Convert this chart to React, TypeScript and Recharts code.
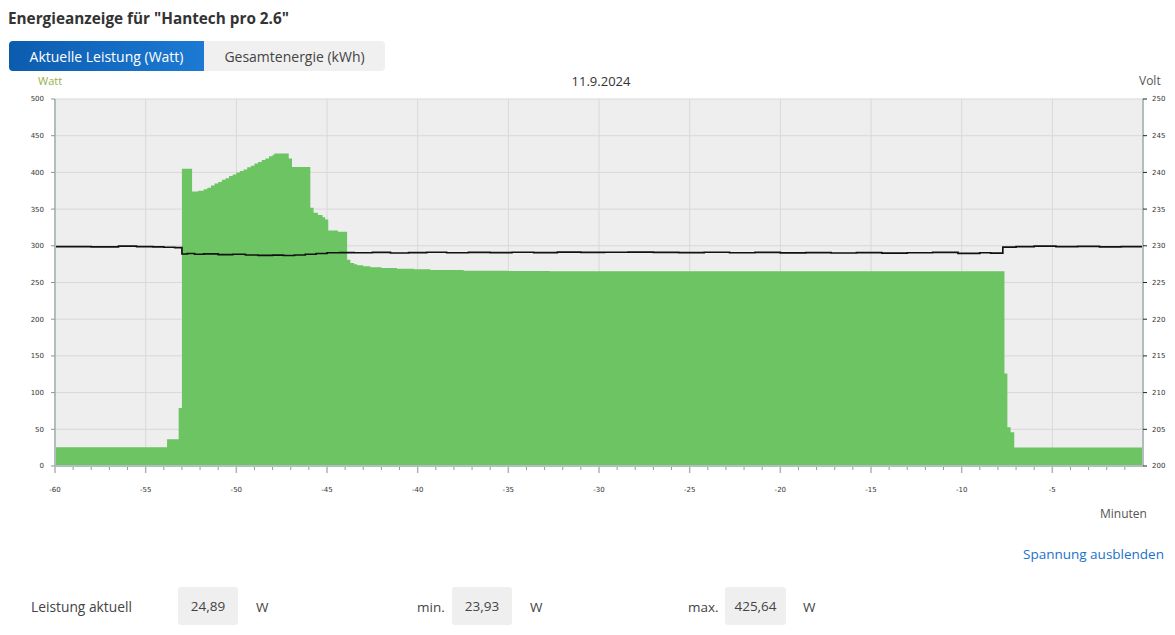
import React from 'react';
import { ComposedChart, Area, Line, XAxis, YAxis, CartesianGrid } from 'recharts';

// Power (Watt), step values starting at each minute mark
const powerMinutes = [
  -60, -53.82, -53.18, -53.0, -52.44, -52.1, -51.8, -51.6, -51.4, -51.2,
  -51.0, -50.8, -50.6, -50.4, -50.2, -50.0, -49.8, -49.6, -49.4, -49.2,
  -49.0, -48.8, -48.6, -48.4, -48.2, -48.0, -47.9, -47.11, -46.93, -45.92,
  -45.74, -45.5, -45.25, -45.1, -44.93, -44.4, -43.89, -43.71, -43.5, -43.34,
  -43.0, -42.61, -42.0, -41.14, -40.2, -39.3, -37.46, -35.0, -32.7, -7.64,
  -7.48, -7.3, -7.1, 0,
];
const powerWatts = [
  25.4, 36.5, 79, 405, 374, 375, 377, 379, 382, 385,
  387, 390, 392, 395, 397, 400, 402, 404, 407, 409,
  412, 414, 417, 419, 422, 424, 425.6, 419, 407.5, 352,
  345, 342, 339, 336, 321, 319, 281, 276.5, 275, 273.5,
  272, 270.7, 269.8, 268.8, 268, 267, 266, 265.8, 265.3, 126,
  52.7, 46, 25.2, 25.2,
];

// Voltage (Volt)
const voltMinutes = [
  -60, -58, -56.5, -55.5, -54.6, -54.0, -53.4, -53.0, -52.7, -52.3,
  -51.8, -51.0, -50.2, -49.5, -48.8, -48.0, -47.4, -46.8, -46.2, -45.6,
  -45.0, -44.3, -43.5, -42.5, -41.5, -40.5, -39.5, -38.4, -37.2, -36.0,
  -34.8, -33.6, -32.3, -31.0, -29.7, -28.4, -27.0, -25.6, -24.2, -22.8,
  -21.4, -20.0, -18.6, -17.2, -15.8, -14.4, -13.0, -11.6, -10.2, -9.0,
  -8.4, -7.73, -7.0, -6.0, -4.8, -3.6, -2.4, -1.2, 0,
];
const voltValues = [
  229.9, 229.85, 229.95, 229.9, 229.85, 229.8, 229.75, 228.88, 228.95, 228.85,
  228.9, 228.8, 228.85, 228.75, 228.7, 228.72, 228.68, 228.75, 228.85, 228.95,
  229.05, 229.08, 229.05, 229.1, 229.02, 229.08, 229.12, 229.05, 229.1, 229.06,
  229.12, 229.08, 229.15, 229.1, 229.12, 229.15, 229.1, 229.08, 229.12, 229.05,
  229.1, 229.04, 229.08, 229.02, 229.06, 229.0, 229.05, 229.1, 228.98, 229.05,
  229.0, 229.82, 229.9, 229.95, 229.88, 229.92, 229.85, 229.9, 229.9,
];

const wattTicks = [0, 50, 100, 150, 200, 250, 300, 350, 400, 450, 500];
const voltTicks = [200, 205, 210, 215, 220, 225, 230, 235, 240, 245, 250];
const minuteTicks = [
  -60, -59, -58, -57, -56, -55, -54, -53, -52, -51, -50, -49, -48, -47, -46,
  -45, -44, -43, -42, -41, -40, -39, -38, -37, -36, -35, -34, -33, -32, -31,
  -30, -29, -28, -27, -26, -25, -24, -23, -22, -21, -20, -19, -18, -17, -16,
  -15, -14, -13, -12, -11, -10, -9, -8, -7, -6, -5, -4, -3, -2, -1,
];
const gridMinutes = [-55, -50, -45, -40, -35, -30, -25, -20, -15, -10, -5];

const powerData = powerMinutes.map((m, i) => ({ m, w: powerWatts[i] }));
const voltData = voltMinutes.map((m, i) => ({ m, v: voltValues[i] }));

const tickFont = 'DejaVu Sans, Verdana, sans-serif';
const uiFont = '"Open Sans", "Noto Sans", sans-serif';

const MinuteTick = (props: any) => {
  const { x, y, payload } = props;
  const v = payload.value;
  const major = v % 5 === 0;
  return (
    <g>
      <line
        x1={x}
        x2={x}
        y1={major ? y : y + 1}
        y2={major ? y + 7 : y + 4}
        stroke={major ? '#a8b6b6' : '#8f9c9c'}
        strokeWidth={major ? 1.5 : 1}
      />
      {major && (
        <text x={x} y={y + 26} textAnchor="middle" fontSize={7} fontFamily={tickFont} fill="#333">
          {v}
        </text>
      )}
    </g>
  );
};

const abs = (s: React.CSSProperties): React.CSSProperties => ({ position: 'absolute', whiteSpace: 'nowrap', ...s });

export default function App() {
  return (
    <div style={{ position: 'absolute', left: 0, top: 0, width: 1175, height: 635, background: '#fff', fontFamily: uiFont, overflow: 'hidden' }}>
      <div style={abs({ left: 8, top: 7, fontSize: 15.3, fontWeight: 700, color: '#333', lineHeight: '22px' })}>
        Energieanzeige für "Hantech pro 2.6"
      </div>
      <div
        style={abs({
          left: 9, top: 41, width: 195, height: 30, borderRadius: '4px 0 0 4px',
          background: 'linear-gradient(to right, #0c5cae, #1c7ad4)', color: '#fff', fontSize: 14,
          display: 'flex', alignItems: 'center', justifyContent: 'center',
        })}
      >
        Aktuelle Leistung (Watt)
      </div>
      <div
        style={abs({
          left: 204, top: 41, width: 181, height: 30, borderRadius: '0 4px 4px 0',
          background: '#f0f0f0', color: '#444', fontSize: 14,
          display: 'flex', alignItems: 'center', justifyContent: 'center',
        })}
      >
        Gesamtenergie (kWh)
      </div>
      <div style={abs({ left: 38, top: 73, fontSize: 11, color: '#93b04a', lineHeight: '16px' })}>Watt</div>
      <div style={abs({ left: 551, width: 100, textAlign: 'center', top: 72, fontSize: 13, color: '#333', lineHeight: '18px' })}>11.9.2024</div>
      <div style={abs({ left: 1139, top: 73, fontSize: 12, color: '#555', lineHeight: '16px' })}>Volt</div>

      <ComposedChart
        width={1175}
        height={530}
        margin={{ top: 99, right: 0, left: 0, bottom: 24 }}
        style={{ position: 'absolute', left: 0, top: 0 }}
      >
        <CartesianGrid
          fill="#eeeeee"
          stroke="#d8d8d8"
          strokeWidth={1}
          verticalValues={gridMinutes}
          horizontalValues={wattTicks}
          yAxisId="watt"
        />
        <XAxis
          dataKey="m"
          type="number"
          domain={[-60, 0]}
          ticks={minuteTicks}
          interval={0}
          allowDataOverflow
          height={40}
          tickSize={0}
          tickMargin={0}
          tickLine={false}
          axisLine={{ stroke: '#b2bebe', strokeWidth: 2 }}
          tick={<MinuteTick />}
        />
        <YAxis
          yAxisId="watt"
          orientation="left"
          width={55}
          domain={[0, 500]}
          ticks={wattTicks}
          interval={0}
          tickSize={4}
          tickMargin={7}
          axisLine={{ stroke: '#b2bebe', strokeWidth: 2 }}
          tickLine={{ stroke: '#8a9696' }}
          tick={{ fontSize: 7, fontFamily: tickFont, fill: '#333' }}
        />
        <YAxis
          yAxisId="volt"
          orientation="right"
          width={32}
          domain={[200, 250]}
          ticks={voltTicks}
          interval={0}
          tickSize={4}
          tickMargin={5}
          axisLine={{ stroke: '#b2bebe', strokeWidth: 2 }}
          tickLine={{ stroke: '#222' }}
          tick={{ fontSize: 7, fontFamily: tickFont, fill: '#333', textAnchor: 'start' }}
        />
        <Area
          data={powerData}
          yAxisId="watt"
          dataKey="w"
          type="stepAfter"
          fill="#6dc463"
          fillOpacity={1}
          stroke="none"
          dot={false}
          activeDot={false}
          isAnimationActive={false}
        />
        <Line
          data={voltData}
          yAxisId="volt"
          dataKey="v"
          type="stepAfter"
          stroke="#111"
          strokeWidth={1.7}
          dot={false}
          activeDot={false}
          isAnimationActive={false}
        />
      </ComposedChart>

      <div style={abs({ left: 1100, top: 506, fontSize: 12, color: '#555', lineHeight: '16px' })}>Minuten</div>
      <div style={abs({ left: 1023, top: 544, fontSize: 13.5, color: '#1a73c8', lineHeight: '20px' })}>Spannung ausblenden</div>

      <div style={abs({ left: 31, top: 597, fontSize: 13.8, color: '#444', lineHeight: '20px' })}>Leistung aktuell</div>
      <div style={abs({ left: 178, top: 587, width: 60, height: 38, background: '#efefef', borderRadius: 3, fontSize: 13.5, color: '#444', display: 'flex', alignItems: 'center', justifyContent: 'center' })}>24,89</div>
      <div style={abs({ left: 256, top: 597, fontSize: 13.5, color: '#444', lineHeight: '20px' })}>W</div>

      <div style={abs({ left: 417, top: 597, fontSize: 13.5, color: '#444', lineHeight: '20px' })}>min.</div>
      <div style={abs({ left: 452, top: 587, width: 60, height: 38, background: '#efefef', borderRadius: 3, fontSize: 13.5, color: '#444', display: 'flex', alignItems: 'center', justifyContent: 'center' })}>23,93</div>
      <div style={abs({ left: 530, top: 597, fontSize: 13.5, color: '#444', lineHeight: '20px' })}>W</div>

      <div style={abs({ left: 688, top: 597, fontSize: 13.5, color: '#444', lineHeight: '20px' })}>max.</div>
      <div style={abs({ left: 725, top: 587, width: 61, height: 38, background: '#efefef', borderRadius: 3, fontSize: 13.5, color: '#444', display: 'flex', alignItems: 'center', justifyContent: 'center' })}>425,64</div>
      <div style={abs({ left: 803, top: 597, fontSize: 13.5, color: '#444', lineHeight: '20px' })}>W</div>
    </div>
  );
}
